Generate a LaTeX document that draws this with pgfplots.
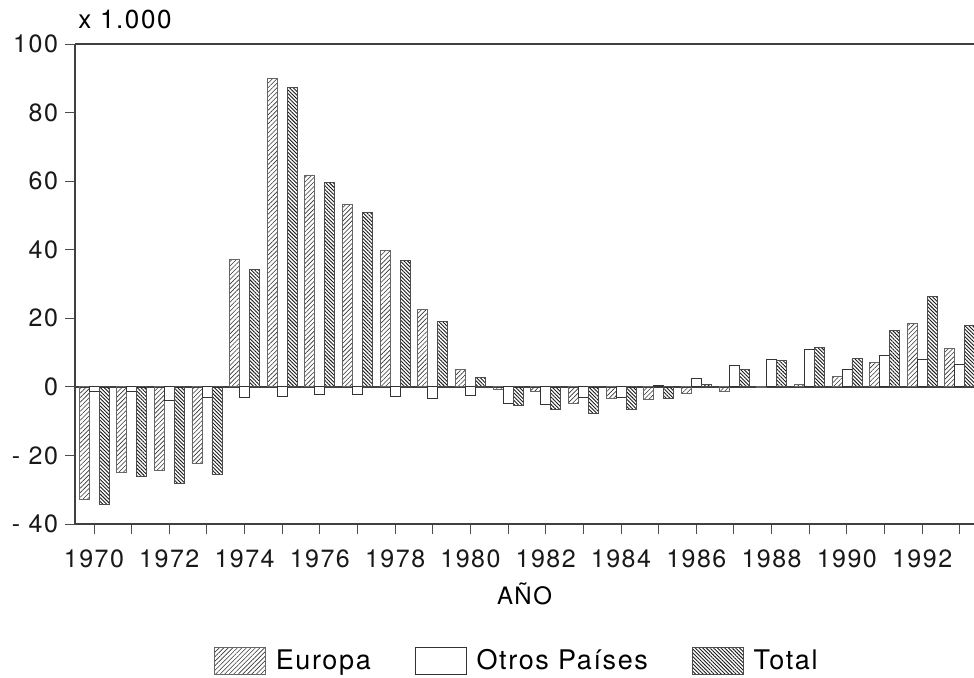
\documentclass[border=0pt]{standalone}
\usepackage{fontspec}
\setmainfont{TeX Gyre Heros}[LetterSpace=6]
\usepackage{pgfplots}
\usepackage{pgfplotstable}
\pgfplotsset{compat=1.18}
\usetikzlibrary{patterns.meta}

\pgfplotstableread{
year E O T
1970 -32.8 -1.3 -34.2
1971 -25.0 -1.3 -26.1
1972 -24.5 -4.0 -28.1
1973 -22.4 -3.2 -25.5
1974 37.1 -3.1 34.3
1975 90.0 -2.8 87.3
1976 61.8 -2.3 59.6
1977 53.1 -2.1 51.0
1978 39.7 -2.9 36.9
1979 22.6 -3.5 19.1
1980 5.1 -2.5 2.7
1981 -0.8 -4.7 -5.5
1982 -1.3 -5.2 -6.5
1983 -4.7 -3.1 -7.8
1984 -3.5 -3.1 -6.6
1985 -3.8 0.5 -3.3
1986 -1.9 2.5 0.6
1987 -1.3 6.4 5.1
1988 -0.2 7.9 7.7
1989 0.7 10.8 11.5
1990 3.1 5.1 8.2
1991 7.2 9.2 16.4
1992 18.6 7.9 26.5
1993 11.3 6.6 17.9
}\datatable

\begin{document}
\begin{tikzpicture}
\begin{axis}[
  at={(37.5pt,76.5pt)}, anchor=south west,
  scale only axis, width=449.5pt, height=240pt,
  xmin=1969.495, xmax=1993.375, ymin=-40, ymax=100,
  axis x line=bottom, axis y line=left,
  axis line style={-, black!75, line width=0.8pt},
  ybar=0pt, bar width=5pt,
  tick align=outside,
  major tick length=5pt,
  tick style={black!70, line width=0.5pt},
  xtick={1970,...,1993},
  xticklabels={1970,,1972,,1974,,1976,,1978,,1980,,1982,,1984,,1986,,1988,,1990,,1992,},
  ytick={-40,-20,...,100},
  yticklabels={- 40,- 20,0,20,40,60,80,100},
  ticklabel style={font=\fontsize{12.5}{14}\selectfont, text=black!90},
  xticklabel style={yshift=-4.5pt},
  extra y ticks={0,100},
  extra y tick labels={},
  extra y tick style={grid=major, major grid style={black!75, line width=0.8pt}},
  xlabel={AÑO},
  xlabel style={at={(axis description cs:0.5,-0.1667)}, anchor=base, font=\fontsize{12}{13}\selectfont},
  legend style={at={(axis description cs:0.4925,-0.285)}, anchor=center, legend columns=-1,
    draw=none, fill=none, font=\fontsize{13.5}{15}\selectfont,
    /tikz/every odd column/.append style={column sep=3pt},
    /tikz/every even column/.append style={column sep=20pt}},
  legend image code/.code={\draw[#1,/tikz/line width=0.4pt] (0pt,-6.75pt) rectangle (25.5pt,6.75pt);},
]
\addplot[draw=black!60, line width=0.4pt, pattern={Lines[angle=45,distance=1.6pt,line width=0.3pt]}, pattern color=black!80]
  table[x=year,y=E]{\datatable};
\addlegendentry{Europa}
\addplot[draw=black!80, line width=0.4pt, fill=white]
  table[x=year,y=O]{\datatable};
\addlegendentry{Otros Países}
\addplot[draw=black!70, line width=0.4pt, pattern={Lines[angle=-45,distance=1.3pt,line width=0.45pt]}, pattern color=black!90]
  table[x=year,y=T]{\datatable};
\addlegendentry{Total}
\end{axis}
\node[anchor=base west, inner sep=0pt, font=\fontsize{13}{14}\selectfont] at (39pt,324.5pt) {x 1.000};
\pgfresetboundingbox
\useasboundingbox (0,0) rectangle (487pt,338.5pt);
\end{tikzpicture}
\end{document}
